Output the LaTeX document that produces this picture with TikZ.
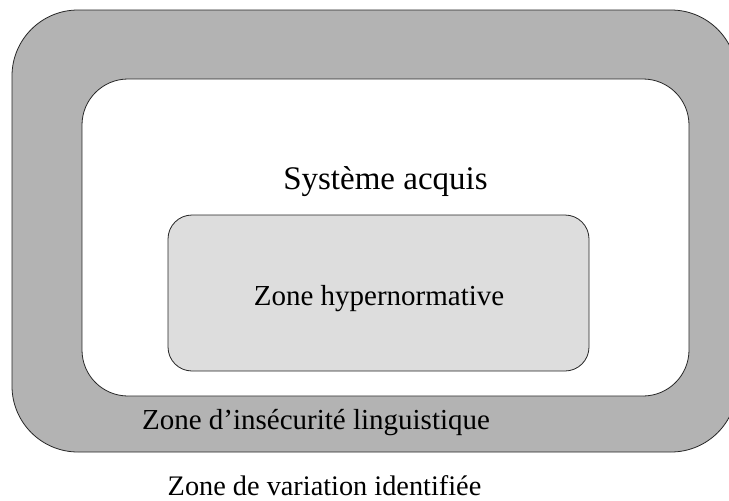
\documentclass[tikz,border=0pt]{standalone}
\usepackage{fontspec}
\setmainfont{Liberation Serif}
\usetikzlibrary{positioning}
\definecolor{ink}{HTML}{262626}
\definecolor{outerg}{HTML}{B3B3B3}
\definecolor{innerg}{HTML}{DDDDDD}
\tikzset{zone/.style={draw=ink,line width=0.8pt,rounded corners=#1,inner sep=0pt}}

\begin{document}
\begin{tikzpicture}[x=1pt,y=-1pt]
  \useasboundingbox (0,0) rectangle (729,501);

  % nested zones
  \node[zone=66pt,fill=outerg,minimum width=725pt,minimum height=442pt]
       (insecurite) at (374.5,231) {};
  \node[zone=46pt,fill=white,minimum width=607pt,minimum height=317pt]
       (acquis) at (385.5,237.5) {};
  \node[zone=24pt,fill=innerg,minimum width=421pt,minimum height=156pt]
       (hyper) at (378.5,293) {};

  % labels
  \node[anchor=base,text=black,font=\fontsize{33}{38}\selectfont]
       (acquislbl) at (385.5,189) {Système acquis};
  \node[anchor=base,text=black,font=\fontsize{29}{34}\selectfont]
       (hyperlbl) at (379,305) {Zone hypernormative};
  \node[anchor=base,text=black,font=\fontsize{29}{34}\selectfont]
       (insecuritelbl) at (316,429) {Zone d’insécurité linguistique};
  \node[anchor=base,text=black,font=\fontsize{28.3}{33}\selectfont,inner ysep=0pt]
       (variationlbl) at (324.5,495.5) {Zone de variation identifiée};
\end{tikzpicture}
\end{document}
